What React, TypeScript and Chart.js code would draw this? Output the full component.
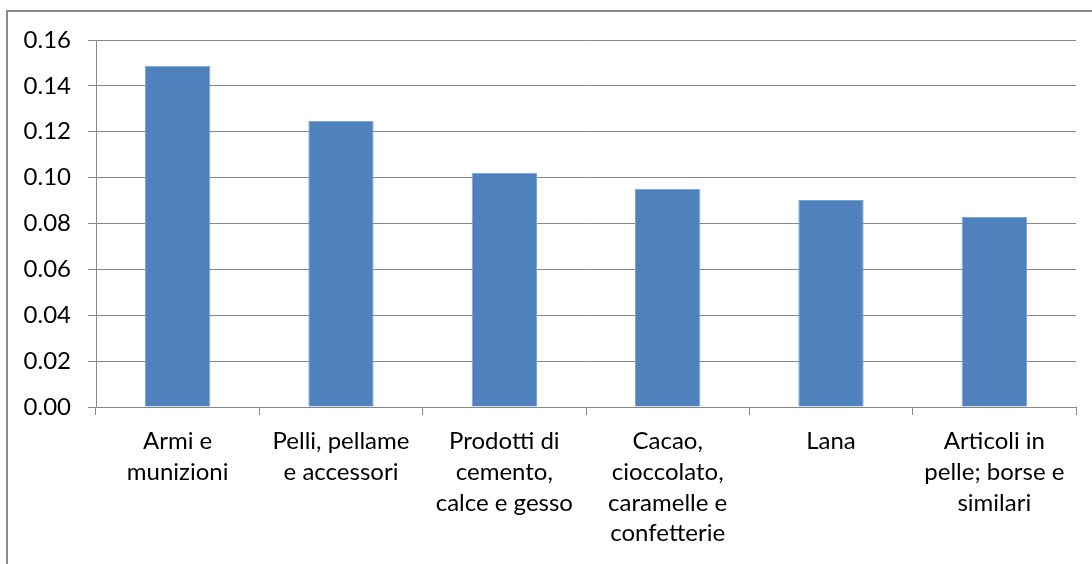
import React, { useEffect, useRef } from "react";
import { Chart, registerables } from "chart.js";

Chart.register(...registerables);

const categories: string[][] = [
  ["Armi e", "munizioni"],
  ["Pelli, pellame", "e accessori"],
  ["Prodotti di", "cemento,", "calce e gesso"],
  ["Cacao,", "cioccolato,", "caramelle e", "confetterie"],
  ["Lana"],
  ["Articoli in", "pelle; borse e", "similari"],
];
const values: number[] = [0.1488, 0.1247, 0.1021, 0.0951, 0.0902, 0.0828];
const yMin = 0;
const yMax = 0.16;
const yStep = 0.02;

const FONT = "Lato, 'Open Sans', sans-serif";
const GRID = "#878787";

const framePlugin = {
  id: "frame",
  beforeDraw(chart: any) {
    const ctx = chart.ctx;
    ctx.save();
    ctx.strokeStyle = "#8a8a8a";
    ctx.lineWidth = 2;
    ctx.beginPath();
    ctx.moveTo(7, chart.height);
    ctx.lineTo(7, 11);
    ctx.lineTo(chart.width, 11);
    ctx.stroke();
    ctx.restore();
  },
};

export default function App() {
  const ref = useRef<HTMLCanvasElement>(null);
  useEffect(() => {
    document.body.style.margin = "0";
    const chart = new Chart(ref.current!, {
      type: "bar",
      data: {
        labels: categories,
        datasets: [
          {
            data: values,
            backgroundColor: "#4f81bd",
            borderColor: "#7aa3d6",
            borderWidth: 1,
            categoryPercentage: 0.4,
            barPercentage: 1,
          },
        ],
      },
      options: {
        animation: false,
        responsive: false,
        maintainAspectRatio: false,
        layout: { padding: { top: 40, right: 16, left: 0, bottom: 0 } },
        plugins: {
          legend: { display: false },
          tooltip: { enabled: false },
        },
        scales: {
          x: {
            offset: true,
            grid: {
              display: true,
              drawOnChartArea: false,
              drawTicks: true,
              tickLength: 8,
              color: GRID,
              offset: true,
            },
            border: { display: true, color: GRID, width: 1 },
            ticks: {
              color: "#000",
              font: { family: FONT, size: 24, lineHeight: 1.28 },
              padding: 11,
              maxRotation: 0,
              autoSkip: false,
            },
            afterFit(scale: any) {
              scale.height = 157;
            },
          },
          y: {
            min: yMin,
            max: yMax,
            grid: { color: GRID, tickLength: 8, lineWidth: 1 },
            border: { display: true, color: GRID, width: 1 },
            ticks: {
              stepSize: yStep,
              color: "#000",
              padding: 17,
              font: { family: FONT, size: 24 },
              callback: (v: any) => Number(v).toFixed(2),
            },
            afterFit(scale: any) {
              scale.width = 96;
            },
          },
        },
      },
      plugins: [framePlugin],
    });
    return () => chart.destroy();
  }, []);
  return (
    <div style={{ position: "absolute", left: 0, top: 0, width: 1092, height: 564 }}>
      <canvas ref={ref} width={1092} height={564} />
    </div>
  );
}
